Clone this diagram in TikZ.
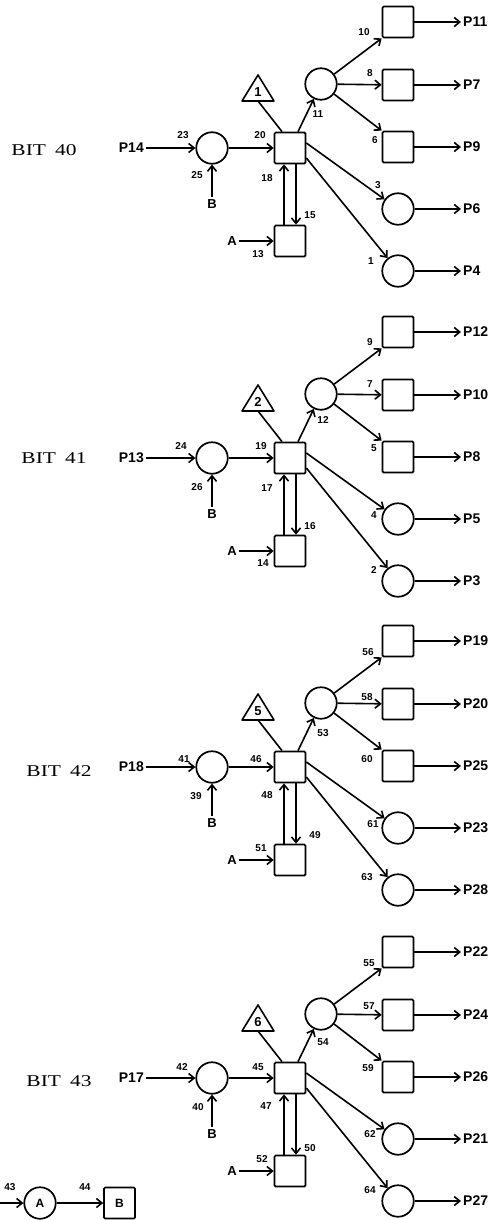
\documentclass[tikz,border=0pt]{standalone}
\usepackage{fontspec}
\usepackage{graphicx}
\usetikzlibrary{arrows.meta}
\newfontfamily\lblfont{Liberation Sans}
\newfontfamily\bitfont{Liberation Serif}
\tikzset{
  pl/.style={circle,draw,line width=1.7pt,minimum size=31.5pt,inner sep=0pt},
  tr/.style={rectangle,draw,line width=1.7pt,minimum size=31pt,inner sep=0pt,rounded corners=1.2pt},
  arr/.style={line width=1.6pt,-{Straight Barb[length=5.5pt,width=9pt]}},
  ln/.style={line width=1.6pt},
  num/.style={font=\lblfont\bfseries\fontsize{10}{10}\selectfont,inner sep=0pt},
  big/.style={font=\lblfont\bfseries\fontsize{14}{14}\selectfont,inner sep=2pt},
  mid/.style={font=\lblfont\bfseries\fontsize{13}{13}\selectfont,inner sep=2pt},
  bit/.style={font=\bitfont\fontsize{16.5}{16.5}\selectfont,inner sep=0pt},
}
% #1 prefix, #2 centre line y, #3 triangle numeral
\newcommand\bitnet[3]{%
  \node[pl] (#1c) at (212,#2) {};
  \node[tr] (#1s) at (290,#2) {};
  \node[pl] (#1k) at (321,#2-64) {};
  \node[tr] (#1q1) at (398,#2-126) {};
  \node[tr] (#1q2) at (398,#2-63) {};
  \node[tr] (#1q3) at (398,#2-1) {};
  \node[pl] (#1r1) at (398,#2+61) {};
  \node[pl] (#1r2) at (398,#2+123) {};
  \node[tr] (#1a) at (290,#2+93) {};
  \draw[ln,line join=round] (258,#2-73) -- (274,#2-47) -- (242,#2-47) -- cycle;
  \node[mid] (#1t) at (258,#2-56) {#3};
  \coordinate (#1tb) at (258,#2-47);
  \node[mid] (#1B) at (212,#2+56) {B};
  \node[mid] (#1A) at (232,#2+93) {A};
  \draw[arr] (#1c) -- (#1s);
  \draw[arr] (#1B) -- (#1c);
  \draw[arr] (#1A) -- (#1a);
  \draw[ln] (#1tb) -- ([xshift=-8pt]#1s.north);
  \draw[arr] ([xshift=8pt]#1s.north) -- (#1k);
  \draw[arr] (#1k) -- (#1q1.south west);
  \draw[arr] (#1k) -- (#1q2);
  \draw[arr] (#1k) -- (#1q3.north west);
  \draw[arr] ([yshift=5pt]#1s.east) -- (#1r1);
  \draw[arr] ([yshift=-10pt]#1s.east) -- (#1r2);
  \draw[arr] ([xshift=-6pt]#1a.north) -- ([xshift=-6pt]#1s.south);
  \draw[arr] ([xshift=6pt]#1s.south) -- ([xshift=6pt]#1a.north);
}
% #1 prefix, #2 centre line y, #3 input, #4..#8 outputs
\newcommand\bitio[8]{%
  \node[big,anchor=east] (#1in) at (146,#2) {#3};
  \draw[arr] (#1in) -- (#1c);
  \node[big,anchor=west] (#1o1) at (461,#2-126) {#4};
  \node[big,anchor=west] (#1o2) at (461,#2-63) {#5};
  \node[big,anchor=west] (#1o3) at (461,#2-1) {#6};
  \node[big,anchor=west] (#1o4) at (461,#2+61) {#7};
  \node[big,anchor=west] (#1o5) at (461,#2+123) {#8};
  \draw[arr] (#1q1) -- (#1o1);
  \draw[arr] (#1q2) -- (#1o2);
  \draw[arr] (#1q3) -- (#1o3);
  \draw[arr] (#1r1) -- (#1o4);
  \draw[arr] (#1r2) -- (#1o5);
}
\begin{document}
\begin{tikzpicture}[x=1pt,y=-1pt]
\useasboundingbox (0,0) rectangle (498,1220);
% ---- BIT 40
\bitnet{a}{148}{1}
\bitio{a}{148}{P14}{P11}{P7}{P9}{P6}{P4}
\node[bit] (abit) at (44,150) {\scalebox{1.3}[1]{BIT\hspace{7pt}40}};
\node[num] (n23) at (183,135) {23};
\node[num] (n25) at (197,175) {25};
\node[num] (n20) at (260,135) {20};
\node[num] (n11) at (318,114) {11};
\node[num] (n10) at (364,32) {10};
\node[num] (n8) at (370,73) {8};
\node[num] (n6) at (375,140) {6};
\node[num] (n3) at (378,185) {3};
\node[num] (n1) at (371,261) {1};
\node[num] (n18) at (267,178) {18};
\node[num] (n15) at (310,215) {15};
\node[num] (n13) at (258,254) {13};
% ---- BIT 41
\bitnet{b}{458}{2}
\bitio{b}{458}{P13}{P12}{P10}{P8}{P5}{P3}
\node[bit] (bbit) at (54,458) {\scalebox{1.3}[1]{BIT\hspace{7pt}41}};
\node[num] (n24) at (181,446) {24};
\node[num] (n26) at (197,487) {26};
\node[num] (n19) at (261,446) {19};
\node[num] (n12) at (323,420) {12};
\node[num] (n9) at (370,342) {9};
\node[num] (n7) at (370,384) {7};
\node[num] (n5) at (374,448) {5};
\node[num] (n4) at (374,515) {4};
\node[num] (n2) at (374,570) {2};
\node[num] (n17) at (267,488) {17};
\node[num] (n16) at (310,526) {16};
\node[num] (n14) at (263,563) {14};
% ---- BIT 42
\bitnet{c}{767}{5}
\bitio{c}{767}{P18}{P19}{P20}{P25}{P23}{P28}
\node[bit] (cbit) at (59,771) {\scalebox{1.3}[1]{BIT\hspace{7pt}42}};
\node[num] (n41) at (184,759) {41};
\node[num] (n39) at (196,796) {39};
\node[num] (n46) at (256,759) {46};
\node[num] (n53) at (323,733) {53};
\node[num] (n56) at (368,652) {56};
\node[num] (n58) at (367,697) {58};
\node[num] (n60) at (367,759) {60};
\node[num] (n61) at (373,824) {61};
\node[num] (n63) at (367,877) {63};
\node[num] (n48) at (267,795) {48};
\node[num] (n49) at (315,835) {49};
\node[num] (n51) at (261,848) {51};
% ---- BIT 43
\bitnet{d}{1078}{6}
\bitio{d}{1078}{P17}{P22}{P24}{P26}{P21}{P27}
\node[bit] (dbit) at (59,1081) {\scalebox{1.3}[1]{BIT\hspace{7pt}43}};
\node[num] (n42) at (182,1067) {42};
\node[num] (n40) at (198,1107) {40};
\node[num] (n45) at (258,1067) {45};
\node[num] (n54) at (323,1042) {54};
\node[num] (n55) at (369,963) {55};
\node[num] (n57) at (369,1006) {57};
\node[num] (n59) at (368,1068) {59};
\node[num] (n62) at (370,1134) {62};
\node[num] (n64) at (370,1190) {64};
\node[num] (n47) at (266,1106) {47};
\node[num] (n50) at (310,1148) {50};
\node[num] (n52) at (262,1159) {52};
% ---- legend at bottom left
\coordinate (lin) at (0,1203);
\node[pl,font=\lblfont\bfseries\fontsize{12}{12}\selectfont] (legA) at (40,1203) {A};
\node[tr,font=\lblfont\bfseries\fontsize{12}{12}\selectfont] (legB) at (119.5,1203) {B};
\draw[arr] (lin) -- (legA);
\draw[arr] (legA) -- (legB);
\node[num] (n43) at (10,1187) {43};
\node[num] (n44) at (85,1187) {44};
\end{tikzpicture}
\end{document}
